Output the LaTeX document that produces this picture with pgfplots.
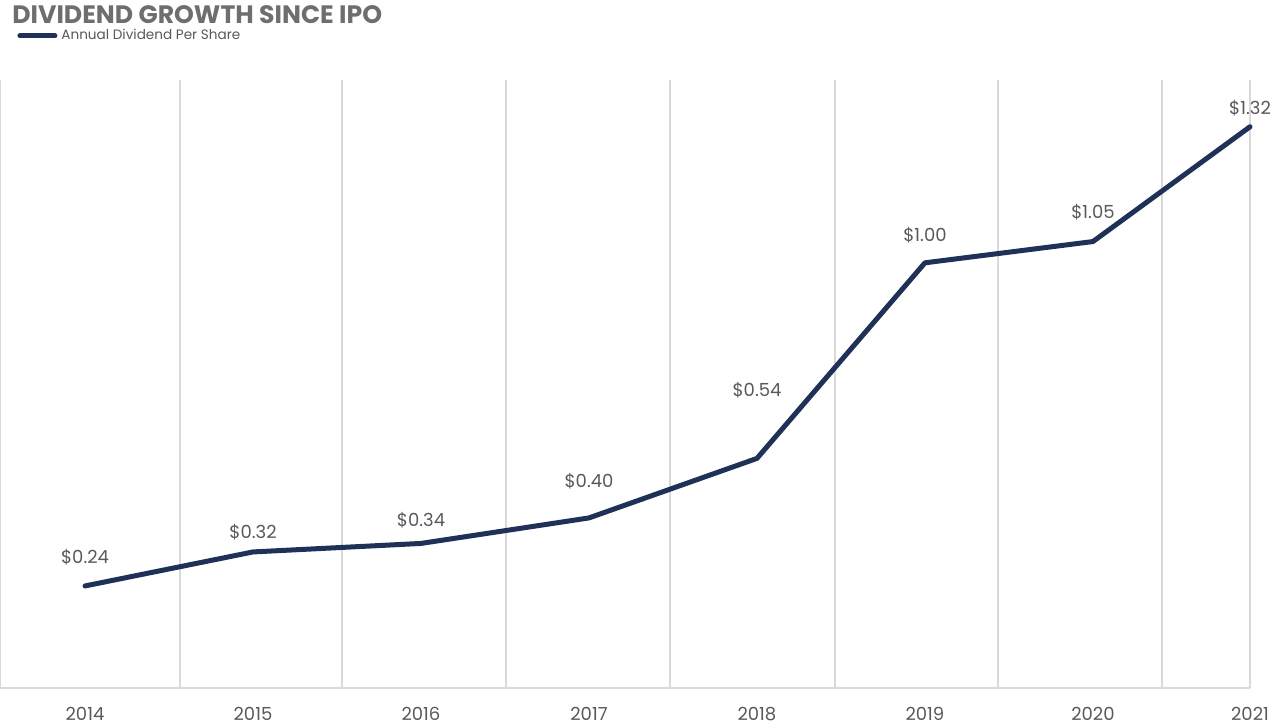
\documentclass[border=0pt]{standalone}
\usepackage{pgfplots}
\pgfplotsset{compat=1.18}
\usepackage{pgfplotstable}
\usepackage{fontspec}
\setmainfont{Poppins}
\definecolor{navy}{HTML}{1F3157}
\definecolor{txt}{HTML}{595959}
\definecolor{ttl}{HTML}{6E6E6E}
\definecolor{gridc}{HTML}{D9D9D9}

% x = position (2014..2021), y = dividend, dy = label offset above the point (pt)
\pgfplotstableread{
x y dy
0 0.24 14.5
1 0.32 10
2 0.34 11.5
3 0.40 18.5
4 0.54 34
5 1.00 14
6 1.05 14.5
6.935 1.32 9.5
}\divdata

\begin{document}
\begin{tikzpicture}
\path[use as bounding box] (0,-19pt) rectangle (636pt,344pt);
\begin{axis}[
  at={(0,0)}, anchor=south west,
  scale only axis, width=625pt, height=304pt,
  xmin=-0.506, xmax=6.935, ymin=0, ymax=1.43,
  clip=false,
  axis x line=bottom, axis y line=none,
  x axis line style={draw=gridc, line width=0.6pt, -},
  xtick={0,1,2,3,4,5,6,6.935},
  xticklabels={2014,2015,2016,2017,2018,2019,2020,2021},
  major tick length=0pt, minor tick length=0pt,
  minor xtick={-0.506,0.565,1.530,2.506,3.482,4.464,5.435,6.411,6.935},
  xminorgrids, minor grid style={draw=gridc, line width=0.6pt},
  ytick=\empty,
  tick label style={font=\fontsize{9}{10}\selectfont, text=txt},
  xticklabel style={yshift=-6pt},
  legend style={at={(axis description cs:0,1)}, anchor=west,
    xshift=8.5pt, yshift=22pt, draw=none, fill=none, inner sep=0pt,
    font=\fontsize{6.8}{7.5}\selectfont, text=txt},
  legend image code/.code={\draw[line width=2.5pt, line cap=round] (0pt,0pt) -- (17.5pt,0pt);},
]
\addplot[navy, line width=2.5pt, line join=round, line cap=round,
  point meta=y,
  visualization depends on={\thisrow{dy} \as \dy},
  nodes near coords={\$\pgfmathprintnumber[fixed, fixed zerofill, precision=2, assume math mode=true]{\pgfplotspointmeta}},
  every node near coord/.append style={anchor=center, yshift=\dy pt,
    font=\fontsize{9}{10}\selectfont, text=txt},
] table[x=x, y=y] {\divdata};
\addlegendentry{Annual Dividend Per Share}
\end{axis}
\node[anchor=west, inner sep=0pt, text=ttl, font=\fontsize{12.6}{14}\selectfont\bfseries]
  at (6pt,336.5pt) {DIVIDEND GROWTH SINCE IPO};
\end{tikzpicture}
\end{document}
